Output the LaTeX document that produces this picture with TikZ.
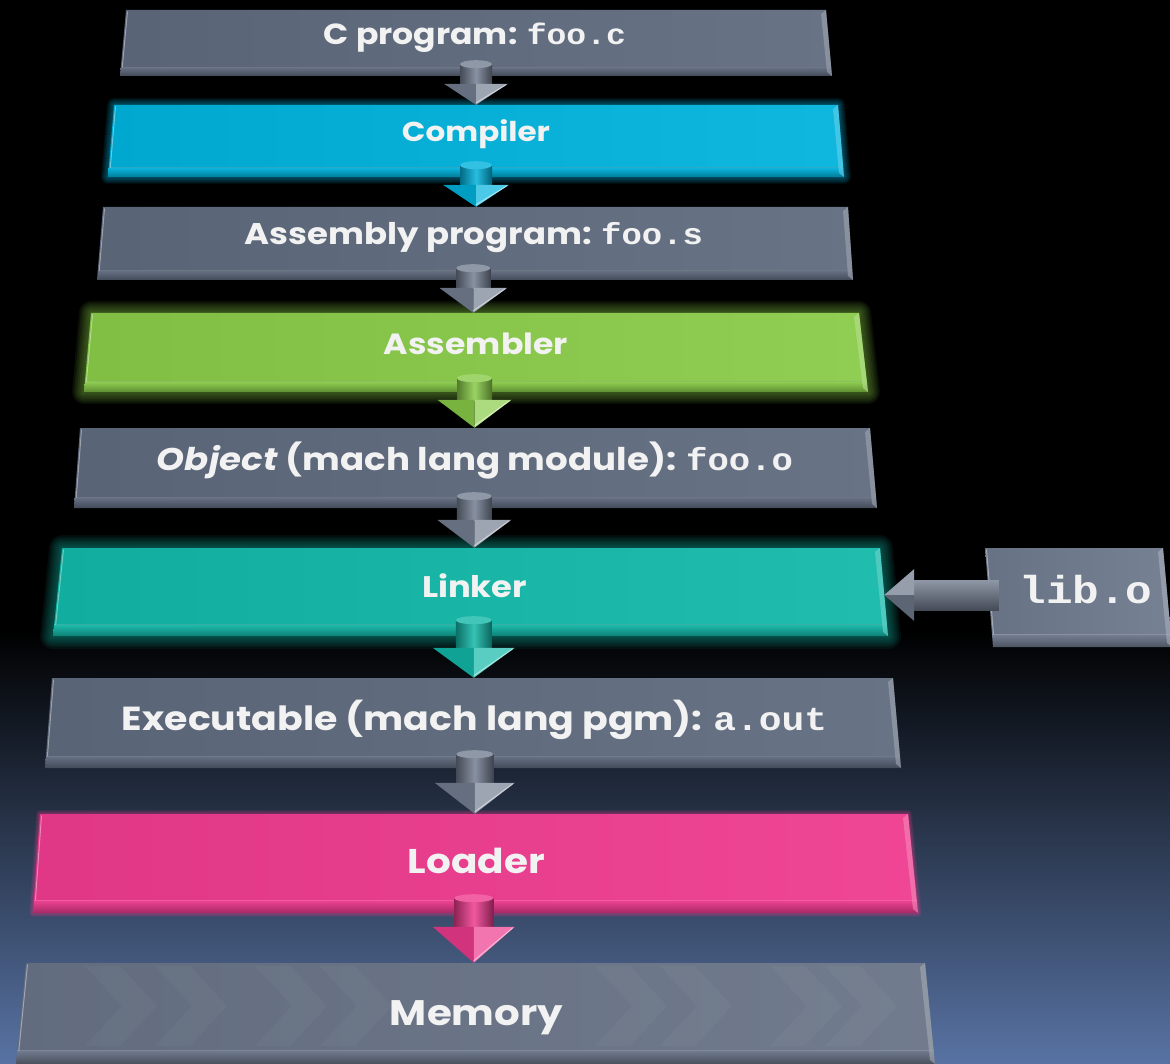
\documentclass[tikz,border=0pt]{standalone}
\usepackage{fontspec}
\setmainfont{Poppins}
\newfontfamily\codefont{Liberation Mono}
\usepackage{graphicx}
\usetikzlibrary{calc}

\definecolor{slabgray}{HTML}{5F6A7E}
\definecolor{memgray}{HTML}{687386}
\definecolor{arrowgray}{HTML}{737E91}
\definecolor{compcyan}{HTML}{00B2DC}
\definecolor{asmgreen}{HTML}{88CB48}
\definecolor{linkteal}{HTML}{12B8A8}
\definecolor{loadpink}{HTML}{EE3A8E}
\definecolor{libgray}{HTML}{6E798D}
\definecolor{bgbottom}{HTML}{5873A3}
\definecolor{labelwhite}{HTML}{F2F2F2}

\tikzset{
  lbl/.style={inner sep=0pt, anchor=base, text=labelwhite, font=\bfseries},
  slabnode/.style={inner sep=0pt, draw=none}
}

% label text squeezed to a given width, a little flattened
\newcommand\fitlabel[2]{\resizebox{#1}{!}{\scalebox{1}[0.88]{#2}}}

% A bevelled slab seen slightly in perspective.
% #1 node name, #2/#3 left/right x at the top, #4 top y,
% #5/#6 left/right x at the bottom, #7 bottom y, #8 colour, #9 glow width (0 = none)
\newcommand\slab[9]{%
  \pgfmathsetmacro\slabE{#7-0.13*(#7-#4)}%
  \pgfmathsetmacro\slabLE{#2+(#5-#2)*0.87}%
  \pgfmathsetmacro\slabRE{#3+(#6-#3)*0.87}%
  \ifnum#9>0
    \foreach \k in {1,...,7}{%
      \draw[#8, opacity=0.075, line width={#9*\k/7}, line join=round]
        (#2,#4) -- (#3,#4) -- (#6,#7) -- (#5,#7) -- cycle;}%
  \fi
  % front face
  \path[left color=#8!94!black, right color=#8!94!white]
    (#2,#4) -- (#3,#4) -- (\slabRE,\slabE) -- (\slabLE,\slabE) -- cycle;
  % lower edge band
  \path[top color=#8!95!white, bottom color=#8!70!black]
    (\slabLE,\slabE) -- (\slabRE,\slabE) -- (#6,#7) -- (#5,#7) -- cycle;
  \draw[#8!70!white, opacity=0.5, line width=1.2pt] (\slabLE,\slabE) -- (\slabRE,\slabE);
  % side bevels
  \draw[white, opacity=0.4, line width=1pt] ({#2+1.5},{#4+1.5}) -- ({\slabLE+1.5},\slabE);
  \fill[#8!60!white, opacity=0.6]
    ({#3-5},{#4+4}) -- (#3,#4) -- (#6,#7) -- ({#6-5},{#7-4}) -- cycle;
  \node[slabnode, minimum width={(#3+#6-#2-#5)/2}, minimum height={#7-#4}]
    (#1) at ({(#2+#3+#5+#6)/4},{(#4+#7)/2}) {};
}

% A bevelled block arrow pointing down.
% #1 start, #2 tip, #3 colour, #4 shaft half width, #5 head half width, #6 head length
\newcommand\blockdown[6]{%
  \path let \p1=(#1), \p2=(#2) in
    coordinate (bd-s) at (\x1,\y1) coordinate (bd-t) at (\x1,\y2);
  \path[left color=#3!60!black, right color=#3!55!black, middle color=#3!85!white]
    ([xshift=-#4pt]bd-s) rectangle ([xshift=#4pt,yshift=#6pt-1pt]bd-t);
  \fill[#3!80!white] (bd-s) ellipse [x radius=#4pt, y radius=4pt];
  \fill[#3!88!black] ([xshift=-#5pt,yshift=#6pt]bd-t) -- ([yshift=#6pt]bd-t) -- (bd-t) -- cycle;
  \fill[#3!70!white] ([xshift=#5pt,yshift=#6pt]bd-t) -- ([yshift=#6pt]bd-t) -- (bd-t) -- cycle;
  \draw[white, opacity=0.5, line width=1pt] ([xshift=#5pt-2pt,yshift=#6pt-1pt]bd-t) -- ([yshift=2pt]bd-t);
}

\begin{document}
\begin{tikzpicture}[x=1pt, y=-1pt]
  \useasboundingbox (0,0) rectangle (1170,1064);
  % backdrop: black, fading into slate blue towards the bottom
  \fill[black] (0,0) rectangle (1170,1064);
  \shade[top color=black, bottom color=bgbottom] (0,630) rectangle (1170,1064);

  % slabs
  \slab{csrc}{126}{826}{10}{120}{832}{76}{slabgray}{0}
  \slab{comp}{114}{838}{105}{108}{844}{177}{compcyan}{14}
  \slab{asrc}{103}{848}{207}{97}{853}{280}{slabgray}{0}
  \slab{asmb}{91}{859}{313}{84}{868}{392}{asmgreen}{24}
  \slab{obj}{80}{870}{428}{74}{877}{508}{slabgray}{0}
  \slab{link}{62}{880}{548}{53}{888}{636}{linkteal}{26}
  \slab{exe}{52}{893}{678}{45}{901}{768}{slabgray}{0}
  \slab{load}{40}{908}{814}{33}{918}{913}{loadpink}{8}
  \slab{mem}{26}{925}{963}{16}{935}{1064}{memgray}{0}
  \slab{lib}{985}{1163}{548}{993}{1172}{647}{libgray}{0}

  % faint chevrons across the memory slab
  \foreach \cx in {85,155,255,320,595,660,770,825}{%
    \fill[white, opacity=0.03] (\cx,966) -- ({\cx+35},966) -- ({\cx+72},1006)
      -- ({\cx+35},1046) -- (\cx,1046) -- ({\cx+37},1006) -- cycle;}

  % flow arrows
  \blockdown{$(csrc.south)+(0,-12)$}{comp.north}{arrowgray}{16}{32}{21}
  \blockdown{$(comp.south)+(0,-12)$}{asrc.north}{compcyan}{16}{33}{22}
  \blockdown{$(asrc.south)+(-2,-12)$}{asmb.north}{arrowgray}{17}{34}{25}
  \blockdown{$(asmb.south)+(-1,-14)$}{obj.north}{asmgreen}{17.5}{37}{28}
  \blockdown{$(obj.south)+(-1,-12)$}{link.north}{arrowgray}{17.5}{37}{28}
  \blockdown{$(link.south)+(3,-16)$}{exe.north}{linkteal}{18}{41}{30}
  \blockdown{$(exe.south)+(2,-14)$}{load.north}{arrowgray}{18.5}{40}{31}
  \blockdown{$(load.south)+(-1,-15)$}{mem.north}{loadpink}{19.5}{41}{36}

  % lib.o feeds the linker
  \path let \p1=(lib.west), \p2=(link.east) in
    coordinate (la-s) at ({\x1+10pt},{\y1+2.5pt}) coordinate (la-t) at (\x2,{\y1+2.5pt});
  \path[top color=arrowgray!80!white, bottom color=arrowgray!60!black]
    ([yshift=15pt]la-s) rectangle ([xshift=29pt,yshift=-15pt]la-t);
  \fill[arrowgray!75!white] (la-t) -- ([xshift=30pt,yshift=26pt]la-t) -- ([xshift=30pt]la-t) -- cycle;
  \fill[arrowgray!80!black] (la-t) -- ([xshift=30pt,yshift=-26pt]la-t) -- ([xshift=30pt]la-t) -- cycle;

  % labels
  \node[lbl] (csrc-t) at (475,45) {\fitlabel{302pt}{C program: {\codefont foo.c}}};
  \node[lbl] (comp-t) at (476,142) {\fitlabel{148pt}{Compiler}};
  \node[lbl] (asrc-t) at (474,245) {\fitlabel{458pt}{Assembly program: {\codefont foo.s}}};
  \node[lbl] (asmb-t) at (476,355) {\fitlabel{184pt}{Assembler}};
  \node[lbl] (obj-t) at (475,470) {\fitlabel{636pt}{\textit{Object} (mach lang module): {\codefont foo.o}}};
  \node[lbl] (link-t) at (474.5,597) {\fitlabel{105pt}{Linker}};
  \node[lbl] (exe-t) at (474.5,730) {\fitlabel{705pt}{Executable (mach lang pgm): {\codefont a.out}}};
  \node[lbl] (load-t) at (476.5,873) {\fitlabel{137pt}{Loader}};
  \node[lbl] (mem-t) at (476.5,1025) {\fitlabel{173pt}{Memory}};
  \node[lbl] (lib-t) at (1086,603) {\fitlabel{133pt}{\codefont lib.o}};
\end{tikzpicture}
\end{document}
